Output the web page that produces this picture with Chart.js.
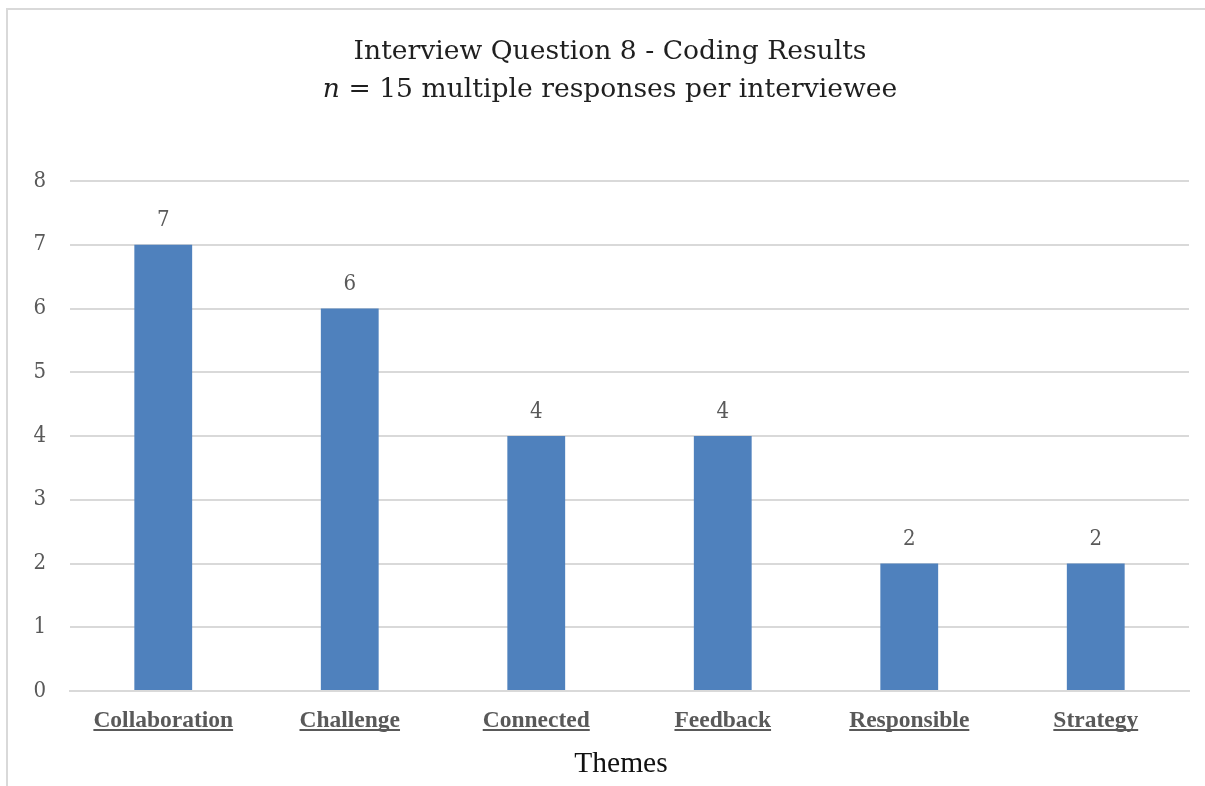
<!DOCTYPE html>
<html>
<head>
<meta charset="utf-8">
<script src="https://cdn.jsdelivr.net/npm/chart.js@4/dist/chart.umd.min.js"></script>
<style>
  html, body { margin: 0; padding: 0; background: #fff; }
  #wrap { position: absolute; left: 0; top: 0; width: 1205px; height: 786px; }
  #frame { position: absolute; left: 6px; top: 8px; width: 1199px; height: 778px;
           border-top: 2px solid #d9d9d9; border-left: 2px solid #d9d9d9; box-sizing: border-box; }
  canvas { position: absolute; left: 0; top: 0; }
</style>
</head>
<body>
<div id="wrap">
  <div id="frame"></div>
  <canvas id="c" width="1205" height="786"></canvas>
</div>
<script>
// Coded themes and how many interviewees mentioned each
const themes = ['Collaboration', 'Challenge', 'Connected', 'Feedback', 'Responsible', 'Strategy'];
const counts = [7, 6, 4, 4, 2, 2];
const yTicks = [0, 1, 2, 3, 4, 5, 6, 7, 8];

const titleLine1 = 'Interview Question 8 - Coding Results';
const titleItalic = 'n';
const titleRest = ' = 15 multiple responses per interviewee';
const axisTitle = 'Themes';

const serif = '"Liberation Serif", "Times New Roman", serif';
const bodySerif = '"DejaVu Serif Condensed", "DejaVu Serif", serif';
const gray = '#595959';

// Two-line heading with an italic "n" on the second line, slightly widened
const headingPlugin = {
  id: 'heading',
  afterDraw(chart) {
    const ctx = chart.ctx;
    const cx = 610;
    const plainFont = '26.5px ' + bodySerif;
    const italicFont = 'italic 26.5px ' + bodySerif;
    ctx.save();
    ctx.fillStyle = '#1f1f1f';
    ctx.textBaseline = 'alphabetic';
    ctx.font = plainFont;
    const w1 = ctx.measureText(titleLine1).width;
    const sx = 513 / w1;

    ctx.save();
    ctx.translate(cx, 59);
    ctx.scale(sx, 1);
    ctx.textAlign = 'center';
    ctx.fillText(titleLine1, 0, 0);
    ctx.restore();

    ctx.font = italicFont;
    const wI = ctx.measureText(titleItalic).width;
    ctx.font = plainFont;
    const wR = ctx.measureText(titleRest).width;
    ctx.save();
    ctx.translate(cx, 97);
    ctx.scale(sx, 1);
    ctx.textAlign = 'left';
    const x0 = -(wI + wR) / 2;
    ctx.font = italicFont;
    ctx.fillText(titleItalic, x0, 0);
    ctx.font = plainFont;
    ctx.fillText(titleRest, x0 + wI, 0);
    ctx.restore();
    ctx.restore();
  }
};

// Value labels above each bar
const valueLabelPlugin = {
  id: 'valueLabels',
  afterDatasetsDraw(chart) {
    const ctx = chart.ctx;
    const meta = chart.getDatasetMeta(0);
    ctx.save();
    ctx.fillStyle = gray;
    ctx.font = '22px ' + bodySerif;
    ctx.textAlign = 'center';
    ctx.textBaseline = 'middle';
    meta.data.forEach((bar, i) => {
      ctx.fillText(String(counts[i]), bar.x, bar.y - 24);
    });
    ctx.restore();
  }
};

// Underlined category labels and the axis caption below them
const xDecorPlugin = {
  id: 'xDecor',
  afterDraw(chart) {
    const xs = chart.scales.x;
    const ctx = chart.ctx;
    ctx.save();
    ctx.font = 'bold 23.5px ' + serif;
    ctx.strokeStyle = gray;
    ctx.lineWidth = 1.8;
    themes.forEach((t, i) => {
      const x = xs.getPixelForTick(i);
      const w = ctx.measureText(t).width;
      ctx.beginPath();
      ctx.moveTo(x - w / 2, 730);
      ctx.lineTo(x + w / 2, 730);
      ctx.stroke();
    });
    ctx.fillStyle = '#111';
    ctx.font = '29.5px ' + serif;
    ctx.textAlign = 'center';
    ctx.textBaseline = 'alphabetic';
    ctx.fillText(axisTitle, 621, 772);
    ctx.restore();
  }
};

new Chart(document.getElementById('c'), {
  type: 'bar',
  data: {
    labels: themes,
    datasets: [{
      data: counts,
      backgroundColor: '#4f81bd',
      barPercentage: 0.31,
      categoryPercentage: 1.0
    }]
  },
  options: {
    responsive: false,
    animation: false,
    devicePixelRatio: 1,
    layout: { padding: { top: 181, left: 20, right: 16, bottom: 0 } },
    plugins: {
      legend: { display: false },
      title: { display: false },
      tooltip: { enabled: false }
    },
    scales: {
      y: {
        min: 0, max: 8,
        afterBuildTicks(s) { s.ticks = yTicks.map(v => ({ value: v })); },
        afterFit(s) { s.width = 50; },
        border: { display: false },
        grid: { color: '#d9d9d9', lineWidth: 2, drawTicks: false },
        ticks: { color: gray, font: { family: bodySerif, size: 22 }, padding: 24 }
      },
      x: {
        afterFit(s) { s.height = 95; },
        border: { color: '#d9d9d9', width: 2 },
        grid: { display: false, drawTicks: false },
        ticks: { color: gray, font: { family: serif, size: 23.5, weight: 'bold' }, padding: 16 }
      }
    }
  },
  plugins: [headingPlugin, valueLabelPlugin, xDecorPlugin]
});
</script>
</body>
</html>
